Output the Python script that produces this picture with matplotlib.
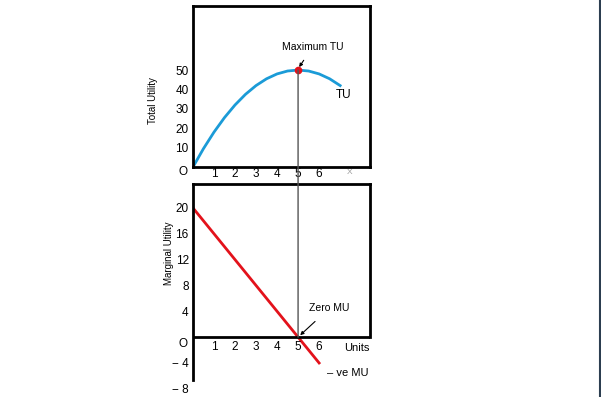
import matplotlib.pyplot as plt
from matplotlib.patches import ConnectionPatch
from matplotlib.lines import Line2D

plt.rcParams["font.family"] = ["Liberation Sans", "DejaVu Sans"]

# Total utility curve (units, TU)
units = [0, 0.5, 1, 1.5, 2, 2.5, 3, 3.5, 4, 4.5, 5, 5.5, 6, 6.5, 7]
total_utility = [0, 9.5, 18, 25.5, 32, 37.5, 42, 45.5, 48, 49.5, 50, 49.5, 48, 45.5, 42]

# Marginal utility line (units, MU)
mu_units = [0, 5, 6]
marginal_utility = [20, 0, -4]

x_ticks = [1, 2, 3, 4, 5, 6]
tu_ticks = [10, 20, 30, 40, 50]
mu_ticks = [20, 16, 12, 8, 4, -4, -8]
mu_tick_labels = ["20", "16", "12", "8", "4", "\u2212 4", "\u2212 8"]

max_point = (5, 50)
zero_point = (5, 0)

BLUE = "#1b9bd7"
RED = "#e3121b"

fig = plt.figure(figsize=(6.01, 3.97), dpi=100)

# ---- top panel: total utility
ax1 = fig.add_axes([0.321, 0.579, 0.295, 0.406])
ax1.plot(units, total_utility, color=BLUE, lw=2)
ax1.plot(*max_point, "o", color=RED, ms=4.5, zorder=5)
ax1.set_xlim(0, 8.43)
ax1.set_ylim(0, 83)
for s in ax1.spines.values():
    s.set_linewidth(2)
ax1.set_xticks(x_ticks)
ax1.set_yticks(tu_ticks)
ax1.tick_params(length=0, labelsize=8.5, pad=3)
ax1.tick_params(axis="x", pad=0.5)
ax1.set_ylabel("Total Utility", fontsize=7)
ax1.yaxis.set_label_coords(-0.198, 0.416)
ax1.text(-0.45, -2.6, "O", fontsize=8.5, ha="center", va="center")
ax1.text(7.45, -1, "X", fontsize=6, ha="center", va="top", color="#999999")
ax1.text(6.8, 37, "TU", fontsize=8.5, ha="left", va="center")
ax1.annotate("Maximum TU", xy=(5.05, 51.5), xytext=(5.7, 62),
             fontsize=7.5, ha="center", va="center",
             arrowprops=dict(arrowstyle="-|>", color="black", lw=0.8,
                             mutation_scale=5, shrinkA=5, shrinkB=0))

# ---- bottom panel: marginal utility
ax2 = fig.add_axes([0.321, 0.0076, 0.295, 0.529])
ax2.plot(mu_units, marginal_utility, color=RED, lw=2)
ax2.set_xlim(0, 8.43)
ax2.set_ylim(-8.8, 23.7)
ax2.spines["bottom"].set_visible(False)
for s in ax2.spines.values():
    s.set_linewidth(2)
ax2.spines["left"].set_bounds(-6.7, 23.7)
ax2.spines["right"].set_bounds(0, 23.7)
ax2.axhline(0, color="black", lw=2)
ax2.set_xticks([])
ax2.set_yticks(mu_ticks)
ax2.set_yticklabels(mu_tick_labels)
ax2.tick_params(length=0, labelsize=8.5, pad=3)
for xv in x_ticks:
    ax2.text(xv, -0.6, str(xv), fontsize=8.5, ha="center", va="top")
ax2.text(-0.45, -1.1, "O", fontsize=8.5, ha="center", va="center")
ax2.set_ylabel("Marginal Utility", fontsize=7)
ax2.yaxis.set_label_coords(-0.107, 0.671)
ax2.text(7.8, -1.7, "Units", fontsize=8, ha="center", va="center")
ax2.text(7.35, -5.5, "\u2013 ve MU", fontsize=8, ha="center", va="center")
ax2.annotate("Zero MU", xy=(5.1, 0.3), xytext=(6.5, 4.5),
             fontsize=7.5, ha="center", va="center",
             arrowprops=dict(arrowstyle="-|>", color="black", lw=0.8,
                             mutation_scale=5, shrinkA=6, shrinkB=0))

# vertical guide linking max TU and zero MU
link = ConnectionPatch(xyA=max_point, coordsA=ax1.transData,
                       xyB=zero_point, coordsB=ax2.transData,
                       color="#555555", lw=1)
fig.add_artist(link)

# right edge frame line
fig.add_artist(Line2D([0.998, 0.998], [0, 1], transform=fig.transFigure,
                      color="#2c3e50", lw=1.5))

fig.savefig("out.png", dpi=100)
